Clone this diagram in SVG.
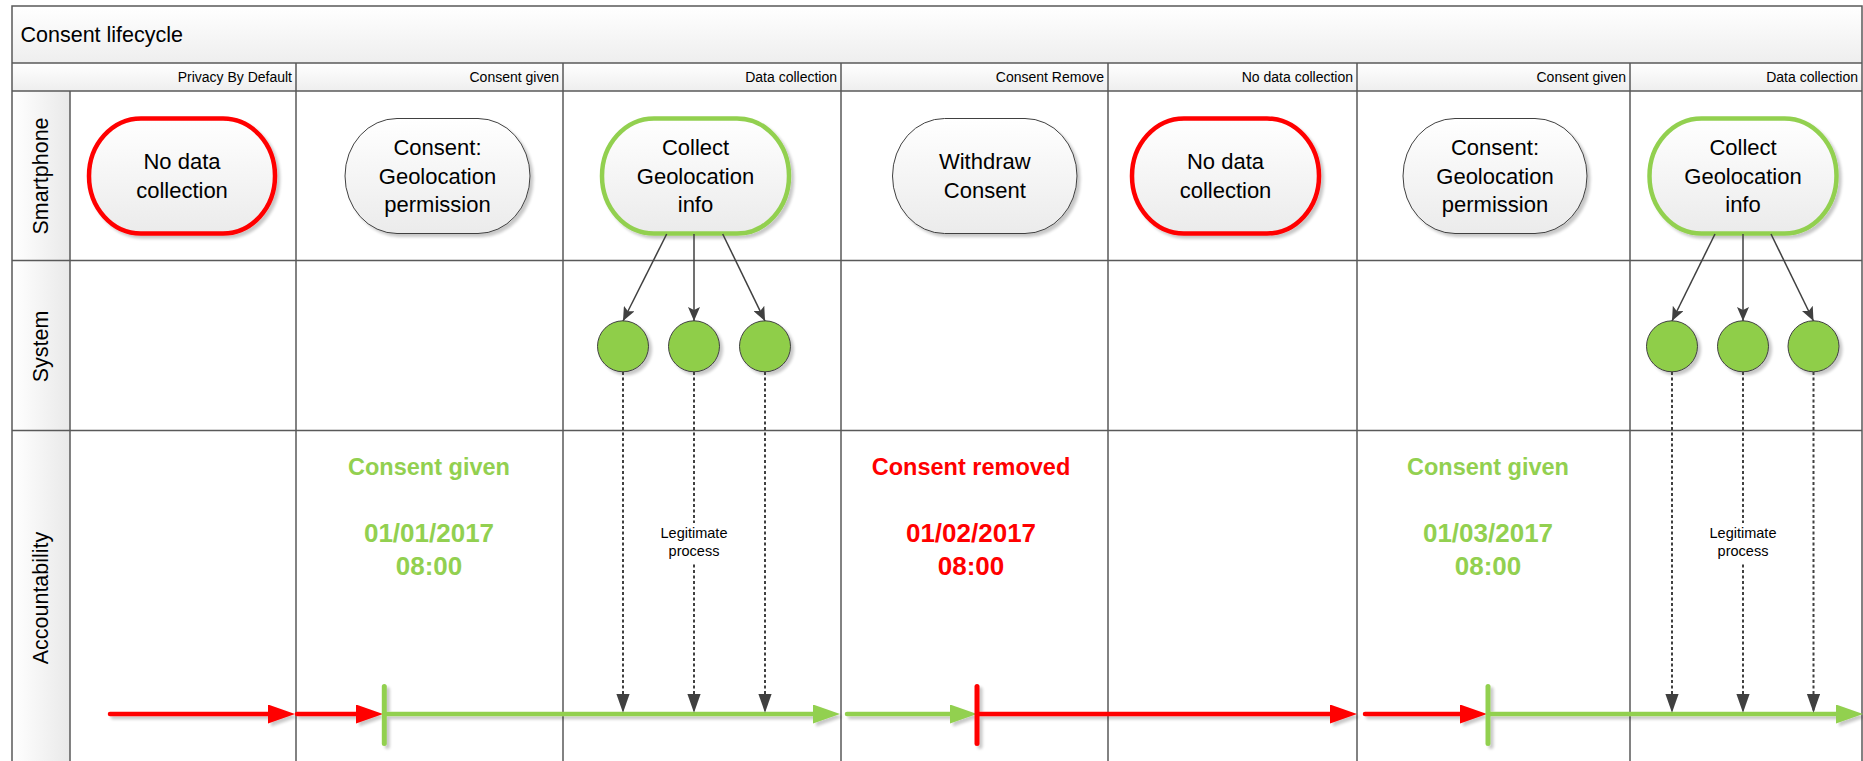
<svg xmlns="http://www.w3.org/2000/svg" width="1863" height="761" viewBox="0 0 1863 761">
<defs>
  <linearGradient id="gV" x1="0" y1="0" x2="0" y2="1">
    <stop offset="0" stop-color="#ffffff"/>
    <stop offset="1" stop-color="#eeeeee"/>
  </linearGradient>
  <linearGradient id="gH" x1="0" y1="0" x2="1" y2="0">
    <stop offset="0" stop-color="#ffffff"/>
    <stop offset="1" stop-color="#e9e9e9"/>
  </linearGradient>
  <linearGradient id="gNode" x1="0" y1="0" x2="0" y2="1">
    <stop offset="0" stop-color="#ffffff"/>
    <stop offset="1" stop-color="#ebebeb"/>
  </linearGradient>
  <filter id="shadow" x="-20%" y="-20%" width="140%" height="140%">
    <feGaussianBlur in="SourceAlpha" stdDeviation="1.5"/>
    <feOffset dx="3" dy="3" result="o"/>
    <feComponentTransfer><feFuncA type="linear" slope="0.22"/></feComponentTransfer>
    <feMerge><feMergeNode/><feMergeNode in="SourceGraphic"/></feMerge>
  </filter>
  <marker id="aRed" markerUnits="userSpaceOnUse" markerWidth="28" markerHeight="20" refX="0" refY="9.5" orient="auto">
    <path d="M0,0 L27,9.5 L0,19 z" fill="#ff0000"/>
  </marker>
  <marker id="aGreen" markerUnits="userSpaceOnUse" markerWidth="28" markerHeight="20" refX="0" refY="9.5" orient="auto">
    <path d="M0,0 L27,9.5 L0,19 z" fill="#92d050"/>
  </marker>
  <marker id="aDark" markerUnits="userSpaceOnUse" markerWidth="15" markerHeight="12" refX="14" refY="6" orient="auto">
    <path d="M0,0 L14,6 L0,12 L3,6 z" fill="#404040"/>
  </marker>
  <marker id="aDash" markerUnits="userSpaceOnUse" markerWidth="20" markerHeight="14" refX="19" refY="6.7" orient="auto">
    <path d="M0,0 L19,6.7 L0,13.4 z" fill="#404040"/>
  </marker>
  <style>
    .grid { stroke: #595959; stroke-width: 1.5; fill: none; }
    .lbl { font-family: "Liberation Sans", Arial, sans-serif; fill: #000; }
    .hdr { font-family: "Liberation Sans", Arial, sans-serif; font-size: 14px; fill: #000; text-anchor: end; }
    .lane { font-family: "Liberation Sans", Arial, sans-serif; font-size: 21.5px; fill: #000; text-anchor: middle; }
    .ntext { font-family: "Liberation Sans", Arial, sans-serif; font-size: 22px; fill: #000; text-anchor: middle; }
    .node { fill: url(#gNode); filter: url(#shadow); }
    .red { stroke: #ff0000; stroke-width: 4.5; }
    .green { stroke: #92d050; stroke-width: 4.5; }
    .grey { stroke: #404040; stroke-width: 1; }
    .dot { fill: #8fce48; stroke: #404040; stroke-width: 1; filter: url(#shadow); }
    .acc { font-family: "Liberation Sans", Arial, sans-serif; font-weight: bold; text-anchor: middle; }
    .accT { font-size: 23.5px; }
    .accD { font-size: 26px; }
    .gtx { fill: #92d050; }
    .rtx { fill: #ff0000; }
    .leg { font-family: "Liberation Sans", Arial, sans-serif; font-size: 14.5px; fill: #000; text-anchor: middle; }
    .solid { stroke: #404040; stroke-width: 1.5; fill: none; marker-end: url(#aDark); }
    .dash { stroke: #404040; stroke-width: 2; stroke-dasharray: 3 2.5; fill: none; marker-end: url(#aDash); }
    .tl { fill: none; stroke-width: 4.5; stroke-linecap: round; }
    .tick { fill: none; stroke-width: 5; stroke-linecap: round; }
  </style>
</defs>

<rect x="0" y="0" width="1863" height="761" fill="#ffffff"/>

<g id="pool">
  <rect x="12" y="6" width="1850" height="57" fill="url(#gV)"/>
  <rect x="12" y="63" width="1850" height="28" fill="url(#gV)"/>
  <rect x="12" y="91" width="58" height="680" fill="url(#gH)"/>
  <text class="lbl" x="20.5" y="41.7" font-size="21.5">Consent lifecycle</text>
  <rect x="12" y="6" width="1850" height="765" class="grid" stroke-width="2"/>
  <line x1="12" y1="63" x2="1862" y2="63" class="grid"/>
  <line x1="12" y1="91" x2="1862" y2="91" class="grid" stroke-width="2"/>
  <line x1="12" y1="260.5" x2="1862" y2="260.5" class="grid" stroke-width="2"/>
  <line x1="12" y1="430.5" x2="1862" y2="430.5" class="grid" stroke-width="2"/>
  <line x1="70" y1="91" x2="70" y2="771" class="grid"/>
  <line x1="296" y1="63" x2="296" y2="771" class="grid"/>
  <line x1="563" y1="63" x2="563" y2="771" class="grid"/>
  <line x1="841" y1="63" x2="841" y2="771" class="grid"/>
  <line x1="1108" y1="63" x2="1108" y2="771" class="grid"/>
  <line x1="1357" y1="63" x2="1357" y2="771" class="grid"/>
  <line x1="1630" y1="63" x2="1630" y2="771" class="grid"/>
  <text class="hdr" x="292" y="81.5">Privacy By Default</text>
  <text class="hdr" x="559" y="81.5">Consent given</text>
  <text class="hdr" x="837" y="81.5">Data collection</text>
  <text class="hdr" x="1104" y="81.5">Consent Remove</text>
  <text class="hdr" x="1353" y="81.5">No data collection</text>
  <text class="hdr" x="1626" y="81.5">Consent given</text>
  <text class="hdr" x="1858" y="81.5">Data collection</text>
  <text class="lane" transform="translate(48,176) rotate(-90)">Smartphone</text>
  <text class="lane" transform="translate(48,346.5) rotate(-90)">System</text>
  <text class="lane" transform="translate(48,598) rotate(-90)">Accountability</text>
</g>

<g id="node-nodata1">
  <rect class="node red" x="89" y="118.5" width="186" height="115" rx="52" ry="57.5"/>
  <text class="ntext" x="182" y="169">No data</text>
  <text class="ntext" x="182" y="197.7">collection</text>
</g>
<g id="node-consent1">
  <rect class="node grey" x="345" y="118.5" width="185" height="115" rx="52" ry="57.5"/>
  <text class="ntext" x="437.5" y="155">Consent:</text>
  <text class="ntext" x="437.5" y="184">Geolocation</text>
  <text class="ntext" x="437.5" y="212.3">permission</text>
</g>
<g id="node-collect1">
  <rect class="node green" x="602" y="118.5" width="187" height="115" rx="52" ry="57.5"/>
  <text class="ntext" x="695.5" y="155">Collect</text>
  <text class="ntext" x="695.5" y="184">Geolocation</text>
  <text class="ntext" x="695.5" y="212.3">info</text>
</g>
<g id="node-withdraw">
  <rect class="node grey" x="892.5" y="118.5" width="184.5" height="115" rx="52" ry="57.5"/>
  <text class="ntext" x="984.8" y="169.3">Withdraw</text>
  <text class="ntext" x="984.8" y="198.3">Consent</text>
</g>
<g id="node-nodata2">
  <rect class="node red" x="1132" y="118.5" width="187" height="115" rx="52" ry="57.5"/>
  <text class="ntext" x="1225.5" y="169">No data</text>
  <text class="ntext" x="1225.5" y="197.7">collection</text>
</g>
<g id="node-consent2">
  <rect class="node grey" x="1403" y="118.5" width="184" height="115" rx="52" ry="57.5"/>
  <text class="ntext" x="1495" y="155">Consent:</text>
  <text class="ntext" x="1495" y="184">Geolocation</text>
  <text class="ntext" x="1495" y="212.3">permission</text>
</g>
<g id="node-collect2">
  <rect class="node green" x="1649.5" y="118.5" width="187" height="115" rx="52" ry="57.5"/>
  <text class="ntext" x="1743" y="155">Collect</text>
  <text class="ntext" x="1743" y="184">Geolocation</text>
  <text class="ntext" x="1743" y="212.3">info</text>
</g>

<g id="system-events-1">
  <circle class="dot" cx="623" cy="346.3" r="25.5"/>
  <circle class="dot" cx="694" cy="346.3" r="25.5"/>
  <circle class="dot" cx="765" cy="346.3" r="25.5"/>
</g>
<g id="system-events-2">
  <circle class="dot" cx="1672" cy="346.3" r="25.5"/>
  <circle class="dot" cx="1743" cy="346.3" r="25.5"/>
  <circle class="dot" cx="1813.5" cy="346.3" r="25.5"/>
</g>

<g id="accountability-1">
  <text class="acc accT gtx" x="429" y="475">Consent given</text>
  <text class="acc accD gtx" x="429" y="541.7">01/01/2017</text>
  <text class="acc accD gtx" x="429" y="575">08:00</text>
</g>
<g id="accountability-2">
  <text class="acc accT rtx" x="971" y="475">Consent removed</text>
  <text class="acc accD rtx" x="971" y="541.7">01/02/2017</text>
  <text class="acc accD rtx" x="971" y="575">08:00</text>
</g>
<g id="accountability-3">
  <text class="acc accT gtx" x="1488" y="475">Consent given</text>
  <text class="acc accD gtx" x="1488" y="541.7">01/03/2017</text>
  <text class="acc accD gtx" x="1488" y="575">08:00</text>
</g>

<g id="timeline" filter="url(#shadow)">
  <path class="tl red" d="M110,714 L268,714" marker-end="url(#aRed)"/>
  <path class="tl red" d="M297,714 L356,714" marker-end="url(#aRed)"/>
  <path class="tl green" d="M384,714 L813,714" marker-end="url(#aGreen)"/>
  <path class="tl green" d="M847,714 L950,714" marker-end="url(#aGreen)"/>
  <path class="tl red" d="M977,714 L1330,714" marker-end="url(#aRed)"/>
  <path class="tl red" d="M1365,714 L1460,714" marker-end="url(#aRed)"/>
  <path class="tl green" d="M1488,714 L1836,714" marker-end="url(#aGreen)"/>
  <path class="tick green" d="M384.3,686.5 L384.3,743.5"/>
  <path class="tick red" d="M977,686.5 L977,743.5"/>
  <path class="tick green" d="M1488,686.5 L1488,743.5"/>
</g>

<g id="connectors">
  <path class="solid" d="M666.7,234 L623,321"/>
  <path class="solid" d="M694,234 L694,321"/>
  <path class="solid" d="M722.7,234 L765,321"/>
  <path class="solid" d="M1715,234 L1672,321"/>
  <path class="solid" d="M1743,234 L1743,321"/>
  <path class="solid" d="M1771,234 L1813.5,321"/>
  <path class="dash" d="M623,372 L623,712.7"/>
  <path class="dash" d="M694,372 L694,712.7"/>
  <path class="dash" d="M765,372 L765,712.7"/>
  <path class="dash" d="M1672,372 L1672,712.7"/>
  <path class="dash" d="M1743,372 L1743,712.7"/>
  <path class="dash" d="M1813.5,372 L1813.5,712.7"/>
  <rect x="654" y="523" width="80" height="39" fill="#ffffff"/>
  <text class="leg" x="694" y="537.5">Legitimate</text>
  <text class="leg" x="694" y="556">process</text>
  <rect x="1703" y="523" width="80" height="39" fill="#ffffff"/>
  <text class="leg" x="1743" y="537.5">Legitimate</text>
  <text class="leg" x="1743" y="556">process</text>
</g>
</svg>
